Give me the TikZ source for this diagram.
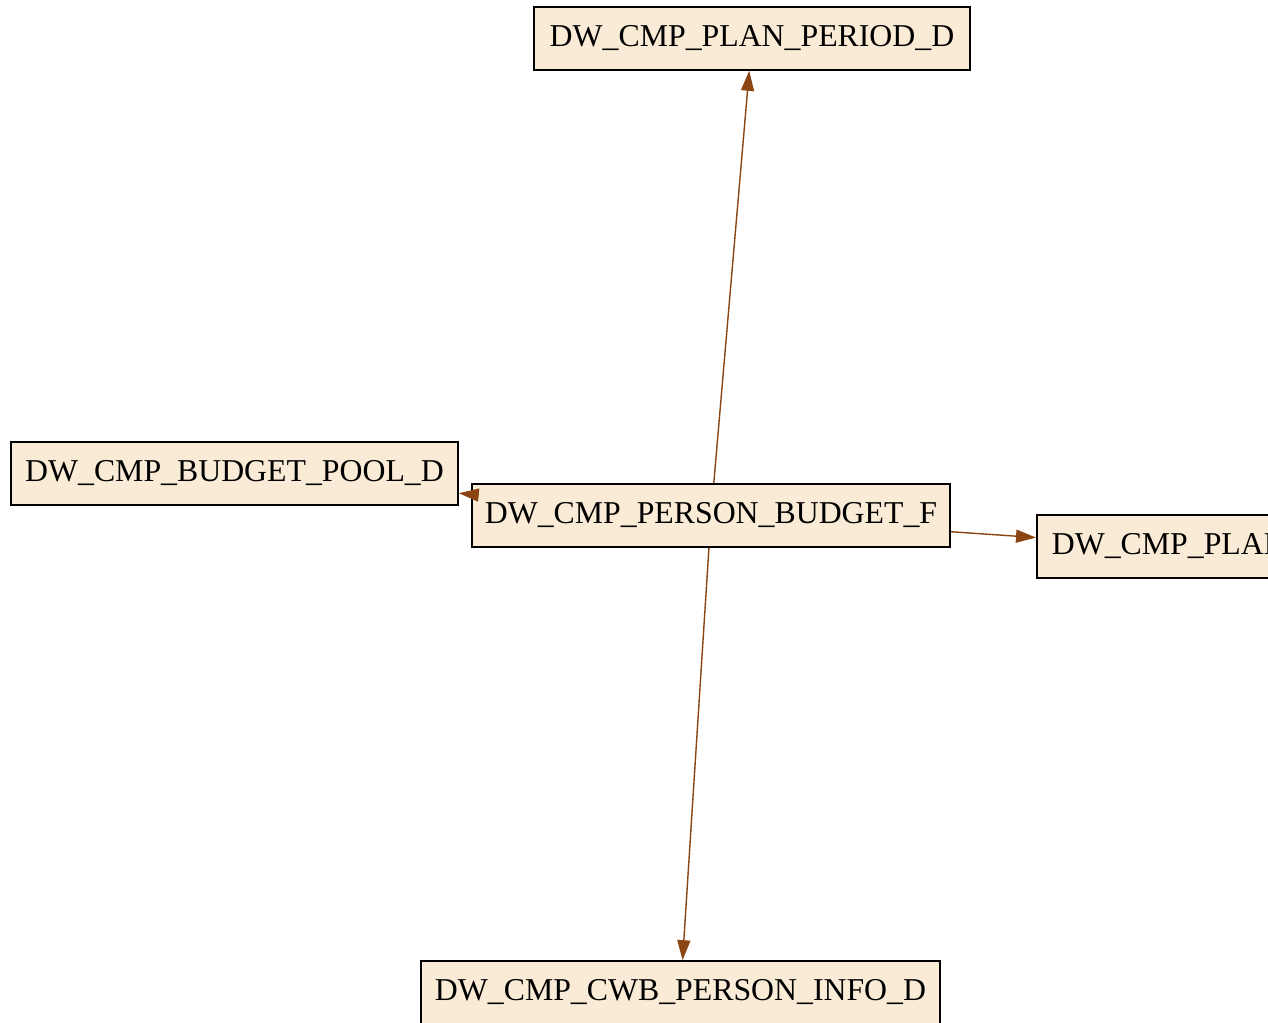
\documentclass[tikz,border=0pt]{standalone}
\usepackage{fontspec}
\setmainfont{Liberation Serif}
\usetikzlibrary{arrows.meta}
\definecolor{boxfill}{HTML}{FAEBD7}
\definecolor{edgecol}{HTML}{8B4513}
\tikzset{
  tbl/.style={draw=black, line width=1.6pt, fill=boxfill, inner sep=0pt,
    minimum height=63pt, font=\fontsize{31.8}{36}\selectfont},
  edge/.style={draw=edgecol, line width=1.4pt,
    -{Triangle[length=20pt,width=13pt]}}
}
\begin{document}
\begin{tikzpicture}[x=1pt,y=-1pt]
\useasboundingbox (0,0) rectangle (1268,1022);
\clip (0,0) rectangle (1268,1022);
\fill[white] (0,0) rectangle (1268,1022);
\node[tbl, minimum width=436pt] (t) at (752,38.5) {DW\_CMP\_PLAN\_PERIOD\_D};
\node[tbl, minimum width=447pt] (l) at (234.5,473.5) {DW\_CMP\_BUDGET\_POOL\_D};
\node[tbl, minimum width=478pt] (c) at (711,515.5) {DW\_CMP\_PERSON\_BUDGET\_F};
\node[tbl, anchor=west, inner xsep=15pt] (r) at (1036,546.5) {DW\_CMP\_PLAN};
\node[tbl, minimum width=519pt] (b) at (680.5,992.5) {DW\_CMP\_CWB\_PERSON\_INFO\_D};
\draw[edge] (c) -- (t);
\draw[edge] (c) -- (l);
\draw[edge] (c) -- (r);
\draw[edge] (c) -- (b);
\end{tikzpicture}
\end{document}
